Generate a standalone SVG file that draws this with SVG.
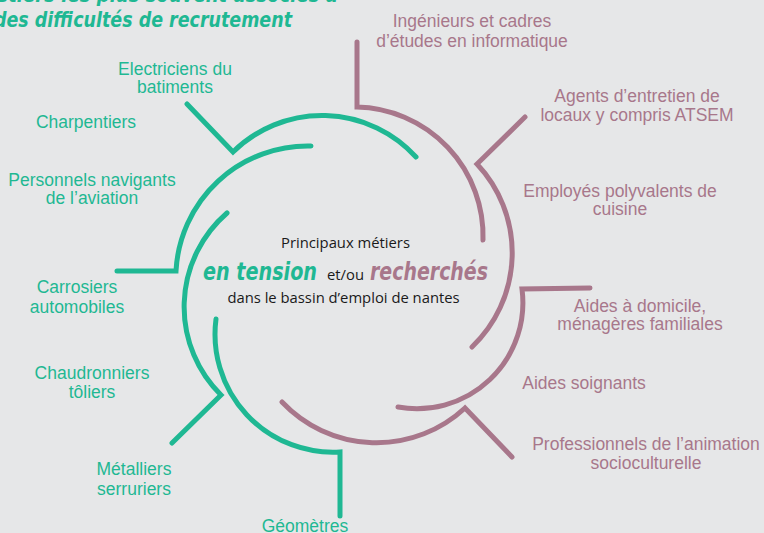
<svg xmlns="http://www.w3.org/2000/svg" width="764" height="533" viewBox="0 0 764 533">
<style>
.g{stroke:#1fb893;}
.p{stroke:#a8778b;}
.ln{fill:none;stroke-width:5;stroke-linecap:round;stroke-linejoin:miter;}
.lg{font-family:"Liberation Sans","Roboto",sans-serif;font-size:17.5px;fill:#1fb893;text-anchor:middle;}
.lp{font-family:"Liberation Sans","Roboto",sans-serif;font-size:17.5px;fill:#a8778b;text-anchor:middle;}
.c{font-family:"Open Sans","Liberation Sans",sans-serif;font-size:14.8px;fill:#1a1a1a;}
.hw{font-family:"DejaVu Sans","Liberation Sans",sans-serif;font-style:oblique;font-weight:bold;}
</style>
<rect x="0" y="0" width="764" height="533" fill="#e6e7e8"/>

<g id="title">
<text class="hw" x="-22" y="2" font-size="22" fill="#1fb893" textLength="360" lengthAdjust="spacingAndGlyphs">Métiers les plus souvent associés à</text>
<text class="hw" x="-6" y="27" font-size="22" fill="#1fb893" textLength="298" lengthAdjust="spacingAndGlyphs">des difficultés de recrutement</text>
</g>

<g id="connectors">
<path class="ln g" d="M187,104 L233,152 A127,127 0 0 1 416,157"/>
<path class="ln g" d="M311,146 A132,132 0 0 0 176,271 L117,271"/>
<path class="ln g" d="M227,213 A124,124 0 0 0 221,395 L172,443"/>
<path class="ln g" d="M216,319 A118,118 0 0 0 340,452 L340,516"/>
<path class="ln p" d="M357,42 L357,107 A129,129 0 0 1 483,240"/>
<path class="ln p" d="M525,117 L477,164 A130,130 0 0 1 472,347"/>
<path class="ln p" d="M590,288 L522,289 A106,106 0 0 1 398,407"/>
<path class="ln p" d="M282,402 A130,130 0 0 0 465,408 L512,457"/>
</g>

<g id="center">
<text class="c" x="345.5" y="248" text-anchor="middle">Principaux métiers</text>
<text class="hw" x="203" y="280" font-size="25" fill="#1fb893" textLength="114" lengthAdjust="spacingAndGlyphs">en tension</text>
<text class="c" x="327" y="280">et/ou</text>
<text class="hw" x="370" y="280" font-size="25" fill="#a8778b" textLength="118" lengthAdjust="spacingAndGlyphs">recherchés</text>
<text class="c" x="343.5" y="303" text-anchor="middle">dans le bassin d’emploi de nantes</text>
</g>

<g id="n-electriciens"><text class="lg" x="175" y="75">Electriciens du</text><text class="lg" x="175" y="93">batiments</text></g>
<g id="n-charpentiers"><text class="lg" x="86" y="128">Charpentiers</text></g>
<g id="n-personnels"><text class="lg" x="92" y="186">Personnels navigants</text><text class="lg" x="92" y="204">de l’aviation</text></g>
<g id="n-carrosiers"><text class="lg" x="77" y="293">Carrosiers</text><text class="lg" x="77" y="313">automobiles</text></g>
<g id="n-chaudronniers"><text class="lg" x="92" y="379">Chaudronniers</text><text class="lg" x="92" y="398">tôliers</text></g>
<g id="n-metalliers"><text class="lg" x="134" y="475">Métalliers</text><text class="lg" x="134" y="495">serruriers</text></g>
<g id="n-geometres"><text class="lg" x="305" y="532">Géomètres</text></g>

<g id="n-ingenieurs"><text class="lp" x="472" y="27">Ingénieurs et cadres</text><text class="lp" x="472" y="47">d’études en informatique</text></g>
<g id="n-agents"><text class="lp" x="637" y="102">Agents d’entretien de</text><text class="lp" x="637" y="121">locaux y compris ATSEM</text></g>
<g id="n-employes"><text class="lp" x="620" y="197">Employés polyvalents de</text><text class="lp" x="620" y="215">cuisine</text></g>
<g id="n-aides-domicile"><text class="lp" x="640" y="312">Aides à domicile,</text><text class="lp" x="640" y="330">ménagères familiales</text></g>
<g id="n-aides-soignants"><text class="lp" x="584" y="389">Aides soignants</text></g>
<g id="n-professionnels"><text class="lp" x="646" y="450">Professionnels de l’animation</text><text class="lp" x="646" y="469">socioculturelle</text></g>
</svg>
